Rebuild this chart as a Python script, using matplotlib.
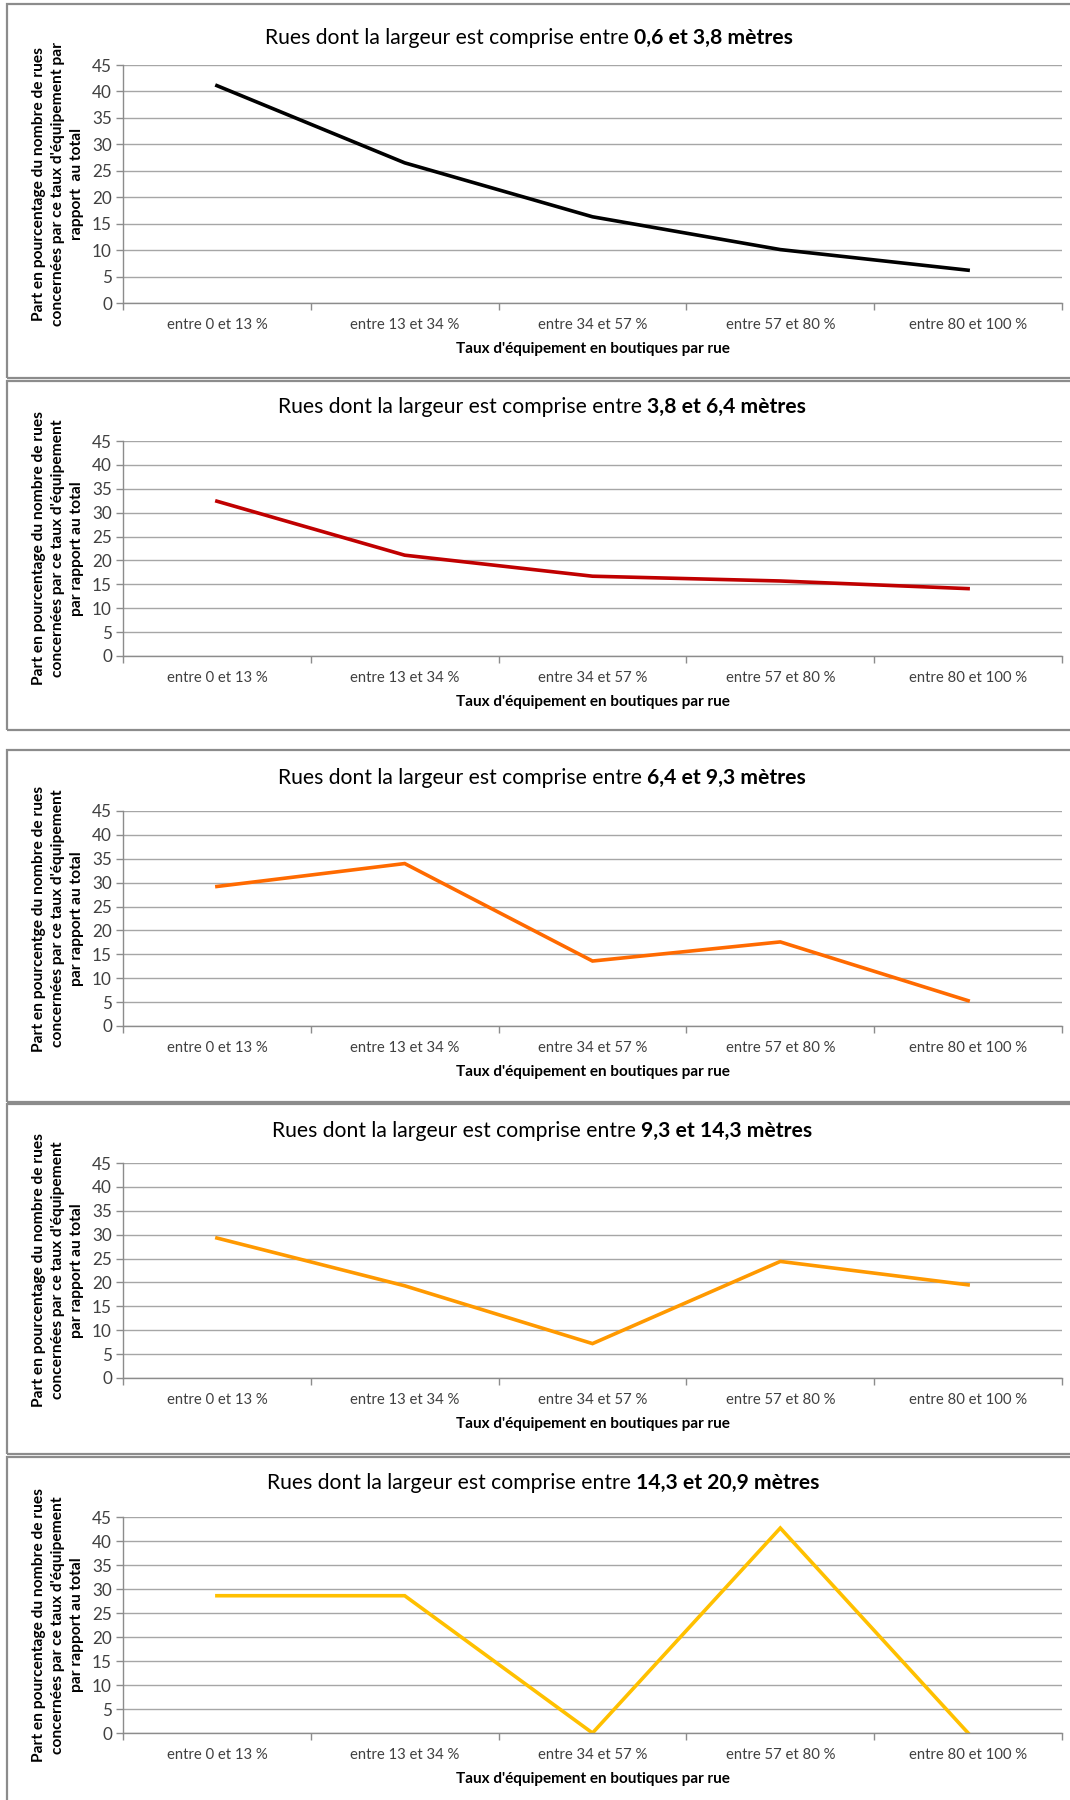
import matplotlib
matplotlib.use('Agg')
import matplotlib.pyplot as plt
from matplotlib.patches import Rectangle

plt.rcParams['font.family'] = ['Lato', 'DejaVu Sans']

categories = ['entre 0 et 13 %', 'entre 13 et 34 %', 'entre 34 et 57 %',
              'entre 57 et 80 %', 'entre 80 et 100 %']
yticks = [0, 5, 10, 15, 20, 25, 30, 35, 40, 45]

widths = ['0,6 et 3,8 mètres', '3,8 et 6,4 mètres', '6,4 et 9,3 mètres',
          '9,3 et 14,3 mètres', '14,3 et 20,9 mètres']
vals_06_38 = [41.1, 26.5, 16.3, 10.1, 6.2]
vals_38_64 = [32.4, 21.1, 16.7, 15.7, 14.1]
vals_64_93 = [29.2, 34.0, 13.6, 17.6, 5.3]
vals_93_143 = [29.3, 19.3, 7.2, 24.4, 19.5]
vals_143_209 = [28.6, 28.6, 0.0, 42.7, 0.0]
series = [vals_06_38, vals_38_64, vals_64_93, vals_93_143, vals_143_209]
colors = ['#000000', '#c00000', '#ff6a00', '#ff9900', '#ffc000']

ylabels = [
    "Part en pourcentage du nombre de rues\nconcernées par ce taux d'équipement par\nrapport  au total",
    "Part en pourcentage du nombre de rues\nconcernées par ce taux d'équipement\npar rapport au total",
    "Part en pourcentge du nombre de rues\nconcernées par ce taux d'équipement\npar rapport au total",
    "Part en pourcentage du nombre de rues\nconcernées par ce taux d'équipement\npar rapport au total",
    "Part en pourcentage du nombre de rues\nconcernées par ce taux d'équipement\npar rapport au total",
]
xlabel = "Taux d'équipement en boutiques par rue"

W, H = 1070, 1800
fig = plt.figure(figsize=(W / 100, H / 100), dpi=100)

# pixel layout (top, bottom of plot area; panel frame top/bottom; title y)
plot_tb = [(65, 303), (441, 656), (811, 1026), (1163, 1378), (1517, 1733)]
frames = [(4, 378), (381, 730), (750, 1102), (1104, 1454), (1457, 1830)]
title_y = [38, 407, 778, 1131, 1483]
title_cx = [529, 542, 542, 542, 543]
ax_left, ax_right = 123, 1062

for (ft, fb) in frames:
    fig.patches.append(Rectangle((7 / W, 1 - fb / H), 1.2, (fb - ft) / H,
                                 transform=fig.transFigure, fill=False,
                                 edgecolor='#8c8c8c', linewidth=1.6))

title_parts = []
for i in range(5):
    top, bot = plot_tb[i]
    ax = fig.add_axes([ax_left / W, 1 - bot / H, (ax_right - ax_left) / W, (bot - top) / H])
    ax.plot(range(5), series[i], color=colors[i], linewidth=2.6, solid_joinstyle='miter')
    ax.set_xlim(-0.5, 4.5)
    ax.set_ylim(0, 45)
    ax.set_yticks(yticks)
    ax.set_xticks(range(5))
    ax.set_xticklabels(categories)
    ax.set_xticks([k - 0.5 for k in range(6)], minor=True)
    ax.tick_params(axis='x', which='major', length=0, pad=11, labelsize=10.7, labelcolor='#404040')
    ax.tick_params(axis='x', which='minor', length=5, color='#8c8c8c', width=1)
    ax.tick_params(axis='y', length=5, color='#8c8c8c', width=1, pad=3,
                   labelsize=12.3, labelcolor='#404040')
    ax.grid(axis='y', color='#a6a6a6', linewidth=1)
    ax.set_axisbelow(True)
    for s in ['top', 'right']:
        ax.spines[s].set_visible(False)
    for s in ['left', 'bottom']:
        ax.spines[s].set_color('#8c8c8c')
        ax.spines[s].set_linewidth(1)
    ax.set_ylabel(ylabels[i], fontsize=11.2, fontweight='bold', linespacing=1.45, va='center')
    ax.yaxis.set_label_coords(-0.069, 0.5)
    ax.set_xlabel(xlabel, fontsize=11, fontweight='bold', labelpad=7)

    t1 = fig.text(0, 1 - title_y[i] / H, 'Rues dont la largeur est comprise entre ',
                  fontsize=15.2, va='center', ha='left')
    t2 = fig.text(0, 1 - title_y[i] / H, widths[i], fontsize=15.2,
                  fontweight='bold', va='center', ha='left')
    title_parts.append((t1, t2, title_cx[i]))

fig.canvas.draw()
r = fig.canvas.get_renderer()
for t1, t2, cx in title_parts:
    w1 = t1.get_window_extent(r).width
    w2 = t2.get_window_extent(r).width
    x0 = cx - (w1 + w2) / 2
    t1.set_x(x0 / W)
    t2.set_x((x0 + w1) / W)

fig.savefig('out.png', dpi=100)
